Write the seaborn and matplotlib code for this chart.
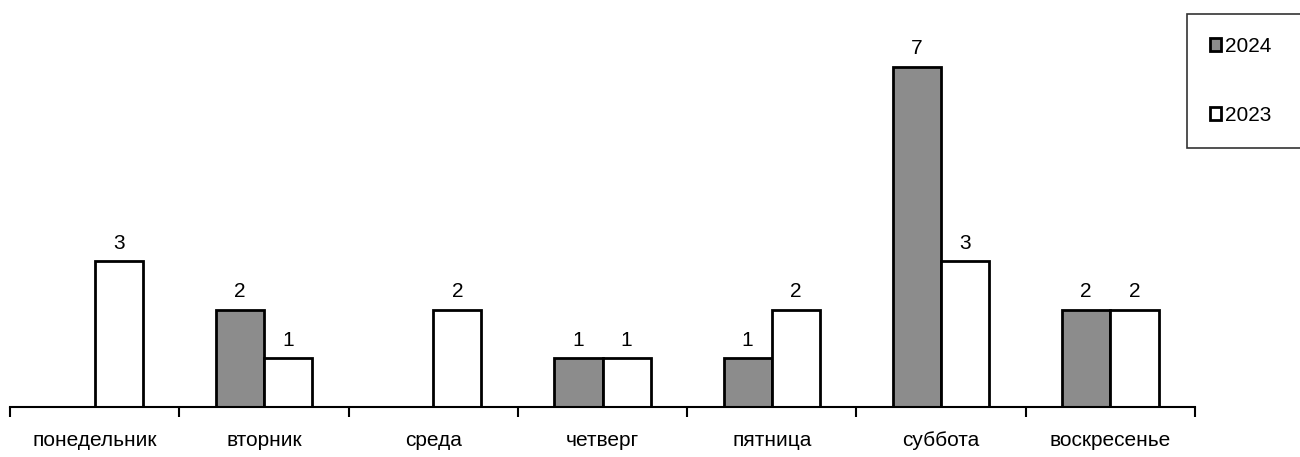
import matplotlib
matplotlib.use("Agg")
import matplotlib.pyplot as plt
import seaborn as sns
import pandas as pd

days = ["понедельник", "вторник", "среда", "четверг", "пятница", "суббота", "воскресенье"]
vals_2024 = [0, 2, 0, 1, 1, 7, 2]
vals_2023 = [3, 1, 2, 1, 2, 3, 2]
years = ["2024", "2023"]

df = pd.DataFrame({
    "day": days * 2,
    "year": ["2024"] * len(days) + ["2023"] * len(days),
    "value": vals_2024 + vals_2023,
})

sns.set_theme(style="white")
plt.rcParams["font.family"] = ["Liberation Sans", "DejaVu Sans"]
plt.rcParams["text.color"] = "black"
plt.rcParams["xtick.color"] = "black"

fig = plt.figure(figsize=(13, 4.57), dpi=100)
ax = fig.add_axes([10 / 1300, 1 - 407 / 457, 1185 / 1300, (407 - 25) / 457])

sns.barplot(data=df, x="day", y="value", hue="year", hue_order=years,
            palette={"2024": "#8c8c8c", "2023": "#ffffff"},
            edgecolor="black", linewidth=2, width=0.57, saturation=1,
            ax=ax, legend=True)

ax.set_ylim(0, 7.86)
ax.set_xlim(-0.5, 6.5)
ax.set_xlabel("")
ax.set_ylabel("")
ax.set_yticks([])
for s in ["top", "right", "left"]:
    ax.spines[s].set_visible(False)
ax.spines["bottom"].set_linewidth(1.5)
ax.spines["bottom"].set_color("black")

ax.set_xticks(range(len(days)))
ax.set_xticklabels(days, fontsize=15, color="black")
ax.tick_params(axis="x", which="major", length=0, pad=17, bottom=True)
ax.set_xticks([i - 0.5 for i in range(len(days) + 1)], minor=True)
ax.tick_params(axis="x", which="minor", length=7, width=1.5, color="black",
               direction="out", bottom=True)

for cont in ax.containers:
    labels = [f"{int(v)}" if v > 0 else "" for v in cont.datavalues]
    ax.bar_label(cont, labels=labels, padding=6, fontsize=15, color="black")

handles, labels = ax.get_legend_handles_labels()
if ax.legend_:
    ax.legend_.remove()
leg = fig.legend(handles, labels, loc="upper left",
                 bbox_to_anchor=(1187 / 1300, 1 - 14 / 457, 0.2, 0.0),
                 mode="expand", frameon=True, fancybox=False,
                 fontsize=15, handlelength=0.55, handleheight=0.55,
                 handletextpad=0.15, labelspacing=2.4, borderpad=1.1,
                 borderaxespad=0)
leg.get_frame().set_edgecolor("black")
leg.get_frame().set_linewidth(1.2)
for t in leg.get_texts():
    t.set_color("black")
for h in leg.legend_handles:
    h.set_linewidth(2)
    h.set_edgecolor("black")

fig.savefig("out.png", dpi=100, facecolor="white")
